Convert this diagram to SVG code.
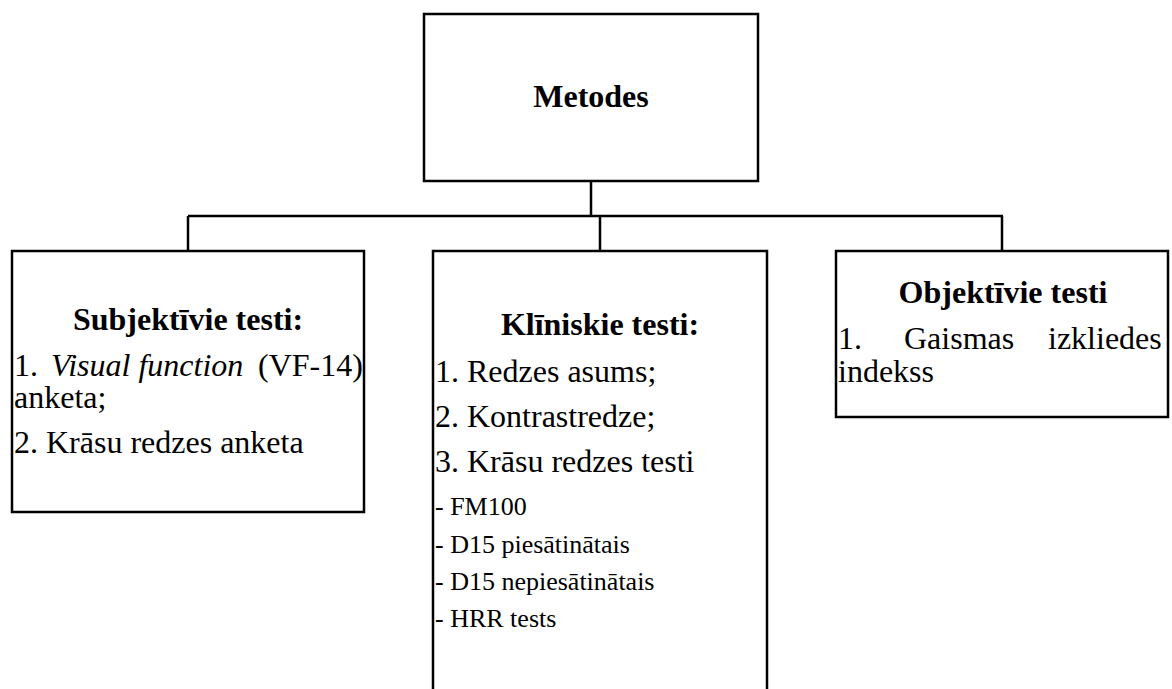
<svg xmlns="http://www.w3.org/2000/svg" width="1172" height="689" viewBox="0 0 1172 689">
<style>
.box{fill:#fff;stroke:#000;stroke-width:2.5}
.con{fill:none;stroke:#000;stroke-width:2.5}
text{font-family:'Liberation Serif','Times New Roman',serif;fill:#000}
.h{font-size:32px;font-weight:bold;text-anchor:middle}
.b{font-size:32px}
.s{font-size:26px}
.i{font-style:italic}
</style>
<rect width="1172" height="689" fill="#fff"/>
<g id="connectors">
<path class="con" d="M591 181V216M188 216H1003M188 216V251M600 216V251M1002 216V251"/>
</g>
<g id="metodes">
<rect class="box" x="424" y="14" width="334" height="167"/>
<text class="h" x="591" y="107">Metodes</text>
</g>
<g id="subjektivie">
<rect class="box" x="12" y="251" width="352" height="261"/>
<text class="h" x="188" y="330">Subjektīvie testi:</text>
<text class="b" x="14" y="376">1. <tspan class="i" x="51">Visual function</tspan> <tspan x="258">(VF-14)</tspan></text>
<text class="b" x="14" y="408">anketa;</text>
<text class="b" x="14" y="453">2. Krāsu redzes anketa</text>
</g>
<g id="kliniskie">
<rect class="box" x="433" y="251" width="334" height="460"/>
<text class="h" x="600" y="335">Klīniskie testi:</text>
<text class="b" x="435" y="382">1. Redzes asums;</text>
<text class="b" x="435" y="427">2. Kontrastredze;</text>
<text class="b" x="435" y="472">3. Krāsu redzes testi</text>
<text class="s" x="435" y="515">- FM100</text>
<text class="s" x="435" y="553">- D15 piesātinātais</text>
<text class="s" x="435" y="590">- D15 nepiesātinātais</text>
<text class="s" x="435" y="627">- HRR tests</text>
</g>
<g id="objektivie">
<rect class="box" x="836" y="251" width="332" height="166"/>
<text class="h" x="1003" y="303">Objektīvie testi</text>
<text class="b" x="838" y="349">1. <tspan x="904">Gaismas</tspan> <tspan x="1048">izkliedes</tspan></text>
<text class="b" x="838" y="382">indekss</text>
</g>
</svg>
